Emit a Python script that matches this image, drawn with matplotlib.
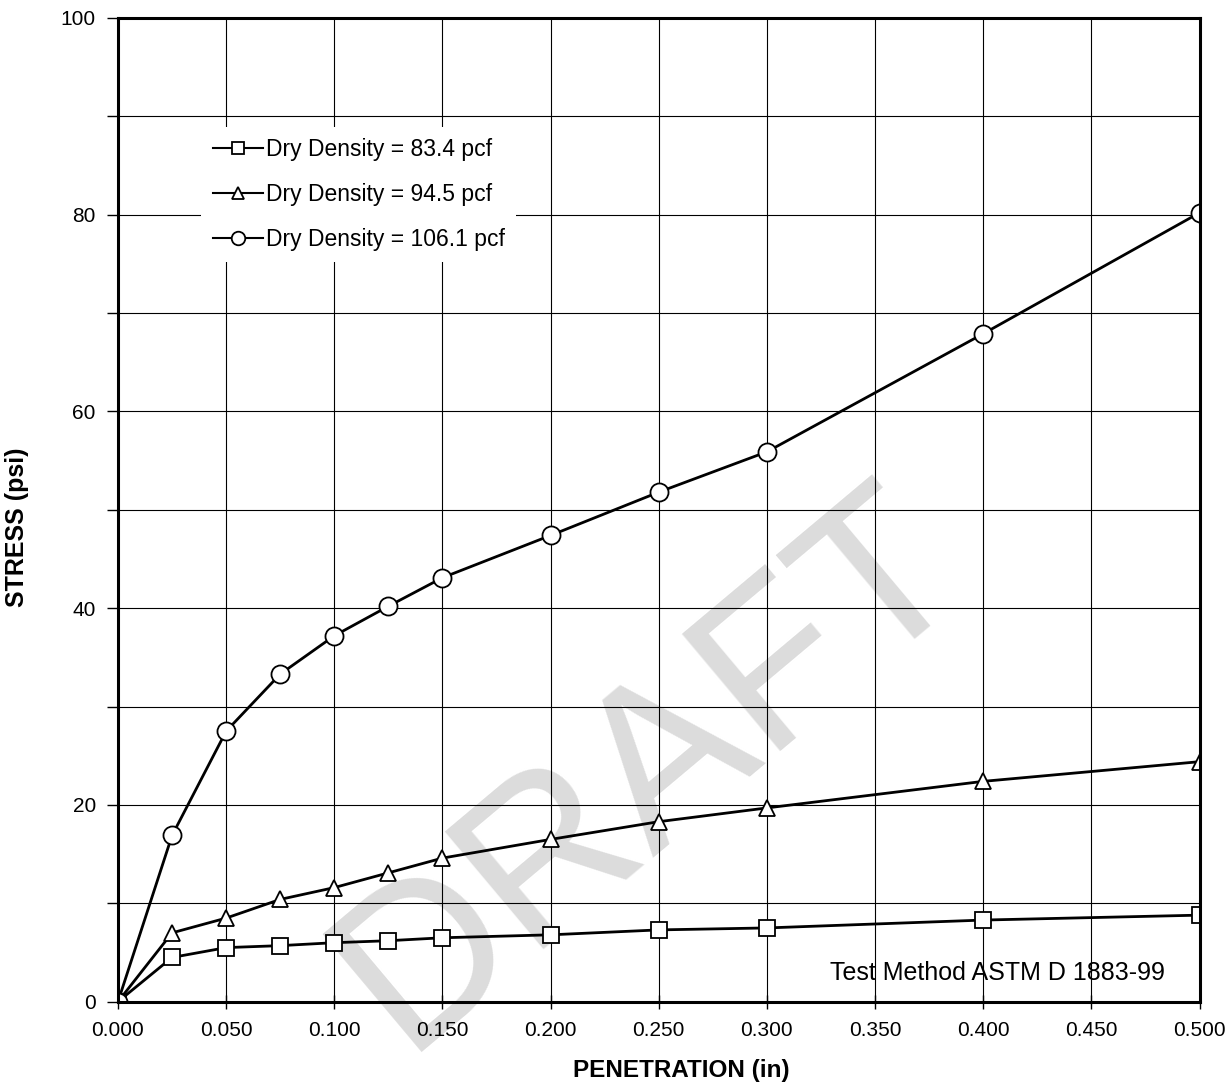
import matplotlib
matplotlib.use('Agg')
from matplotlib import pyplot as plt

plt.rcParams['font.family'] = ['Liberation Sans', 'DejaVu Sans']

penetration = [0.0, 0.025, 0.05, 0.075, 0.1, 0.125, 0.15, 0.2, 0.25, 0.3, 0.4, 0.5]
stress_834 = [0.0, 4.5, 5.5, 5.7, 6.0, 6.2, 6.5, 6.8, 7.3, 7.5, 8.3, 8.8]
stress_945 = [0.0, 7.0, 8.5, 10.4, 11.6, 13.1, 14.6, 16.5, 18.3, 19.7, 22.4, 24.4]
stress_1061 = [0.0, 16.9, 27.5, 33.3, 37.2, 40.2, 43.1, 47.4, 51.8, 55.9, 67.9, 80.2]

labels = ['Dry Density = 83.4 pcf', 'Dry Density = 94.5 pcf', 'Dry Density = 106.1 pcf']
x_ticks = [0.0, 0.05, 0.1, 0.15, 0.2, 0.25, 0.3, 0.35, 0.4, 0.45, 0.5]
y_ticks = [0, 20, 40, 60, 80, 100]

fig = plt.figure(figsize=(12.29, 10.90), dpi=100)
ax = fig.add_axes([0.096, 0.081, 0.880, 0.9025])

# faint watermark behind everything
ax.text(0.492, 0.236, 'DRAFT', transform=ax.transAxes, fontsize=160,
        color='#dcdcdc', rotation=40, ha='center', va='center',
        zorder=0.5, clip_on=False)

ax.plot(penetration, stress_834, marker='s', ms=11, lw=2, color='black',
        mfc='white', mec='black', mew=1.3, label=labels[0], zorder=3)
ax.plot(penetration, stress_945, marker='^', ms=12, lw=2, color='black',
        mfc='white', mec='black', mew=1.3, label=labels[1], zorder=3)
ax.plot(penetration, stress_1061, marker='o', ms=13, lw=2, color='black',
        mfc='white', mec='black', mew=1.3, label=labels[2], zorder=3)

ax.set_xlim(0, 0.5)
ax.set_ylim(0, 100)
ax.set_xticks(x_ticks)
ax.set_xticklabels([f'{t:.3f}' for t in x_ticks])
ax.set_yticks(range(0, 101, 10))
ax.set_yticklabels([str(v) if v in y_ticks else '' for v in range(0, 101, 10)])
ax.grid(True, color='black', lw=0.8, zorder=1)
ax.tick_params(axis='both', direction='out', length=8, width=1, labelsize=15)
ax.tick_params(axis='y', pad=8)
ax.tick_params(axis='x', direction='inout', length=10, pad=9)
for s in ax.spines.values():
    s.set_linewidth(2.2)
    s.set_zorder(4)

ax.set_xlabel('PENETRATION (in)', fontsize=17.5, fontweight='bold')
ax.xaxis.set_label_coords(0.521, -0.058)
ax.set_ylabel('STRESS (psi)', fontsize=18, fontweight='bold')
ax.yaxis.set_label_coords(-0.082, 0.482)

leg = ax.legend(loc='upper left', bbox_to_anchor=(0.0665, 0.901), frameon=True,
                fontsize=16.5, handlelength=2.2, handletextpad=0.1,
                labelspacing=0.95, markerscale=0.75, borderpad=0.5)
leg.get_frame().set_edgecolor('none')
leg.get_frame().set_facecolor('white')
leg.get_frame().set_alpha(1)
leg.set_zorder(5)
for h in leg.get_lines():
    h.set_linewidth(1.5)

ax.text(0.968, 0.017, 'Test Method ASTM D 1883-99', transform=ax.transAxes,
        ha='right', va='bottom', fontsize=18)

fig.savefig('out.png', dpi=100)
